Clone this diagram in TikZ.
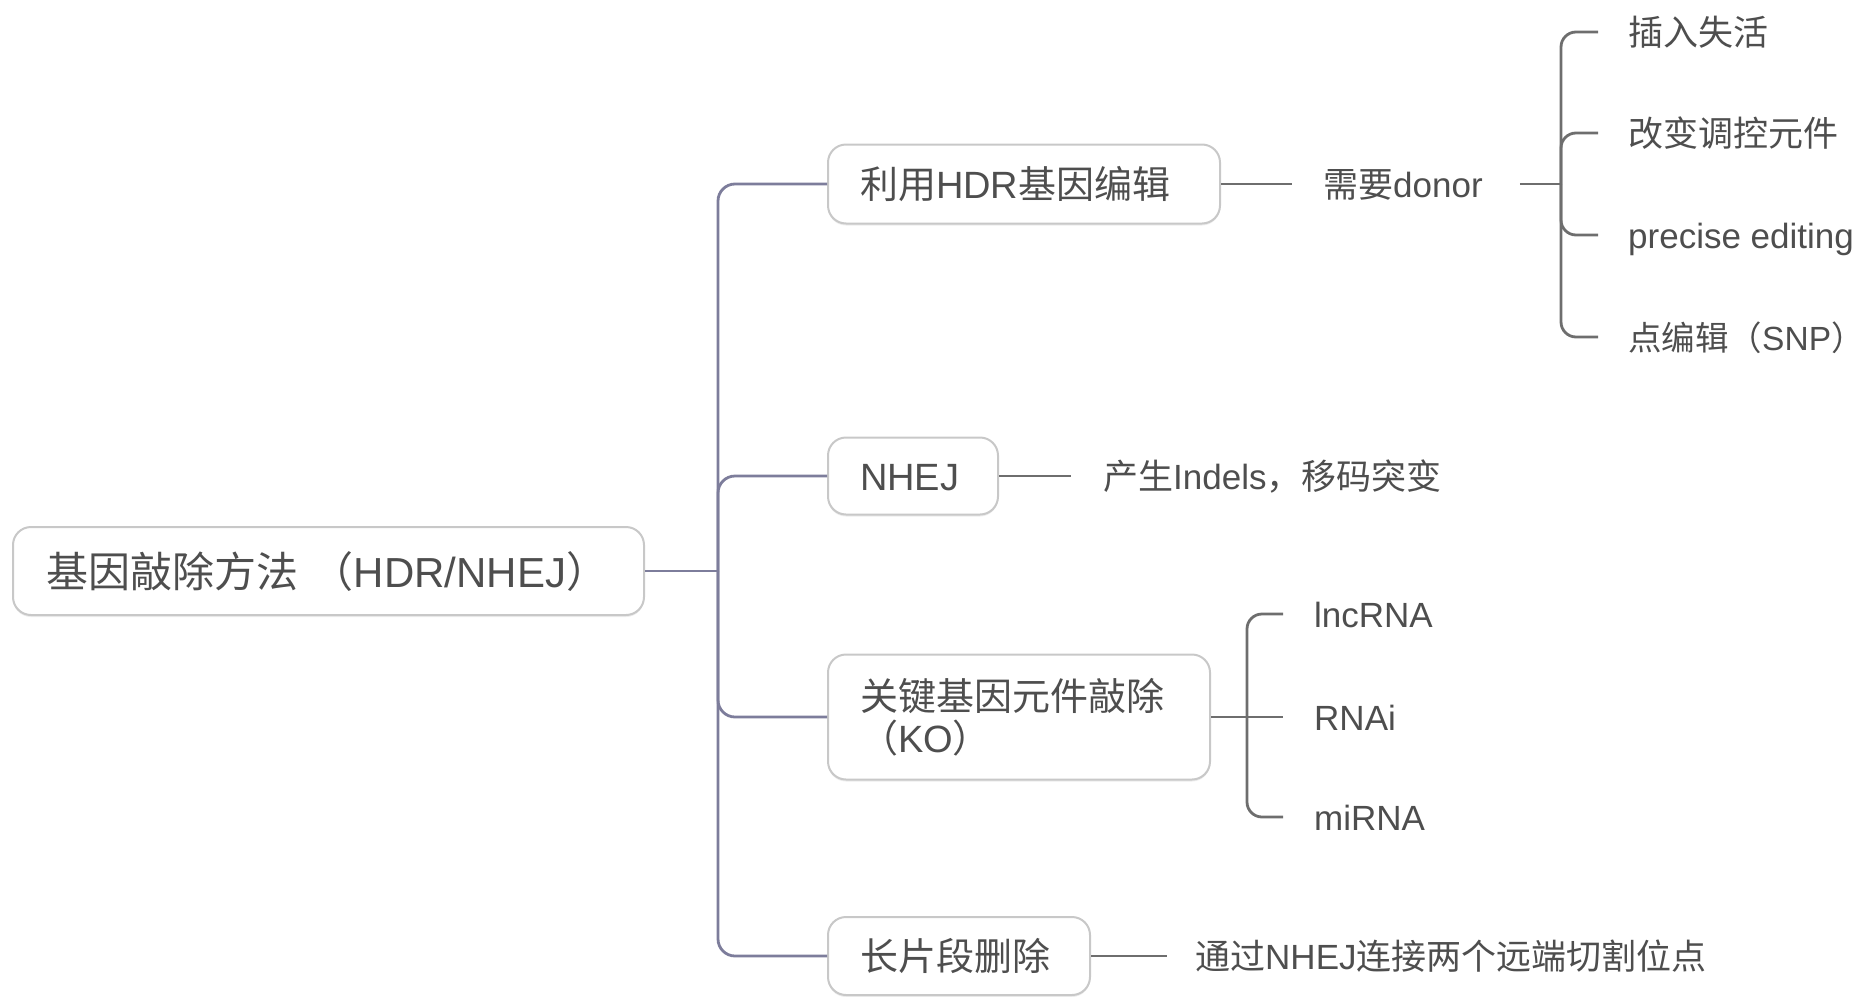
\documentclass[tikz,border=0pt]{standalone}
\usepackage{fontspec}
\setmainfont{Liberation Sans}
\newfontfamily\cjk{Noto Sans CJK SC}
\newcommand{\zh}[1]{{\cjk #1}}
\usetikzlibrary{shadows}
\definecolor{textgray}{RGB}{78,78,78}
\definecolor{boxgray}{RGB}{200,200,200}
\definecolor{trunkc}{RGB}{125,125,155}
\definecolor{brc}{RGB}{110,110,110}
\begin{document}
\begin{tikzpicture}[x=1pt,y=-1pt,
  box/.style={draw=boxgray, line width=2pt, rounded corners=18pt, fill=white,
    drop shadow={shadow xshift=0pt, shadow yshift=-2pt, opacity=0.15},
    inner xsep=32pt, inner ysep=0pt, align=left, anchor=west, text=textgray,
    text height=33.5pt, text depth=4.5pt, font=\fontsize{38}{42}\selectfont},
  leaf/.style={inner xsep=0pt, inner ysep=0pt, anchor=west, text=textgray,
    text height=31pt, text depth=4pt, font=\fontsize{35}{40}\selectfont},
  trunk/.style={draw=trunkc, line width=2.8pt},
  br/.style={draw=brc, line width=2.8pt},
]
\useasboundingbox (0,0) rectangle (1866,996);

% root and main branches
\node[box, font=\fontsize{42}{48}\selectfont, text height=37pt, text depth=5pt, inner xsep=33pt, text width=565pt, minimum height=88pt] (root) at (12,571)
  {\zh{基因敲除方法} \zh{（}HDR/NHEJ\zh{）}};
\node[box, text width=328pt, minimum height=79pt] (c1) at (827,184) {\zh{利用}HDR\zh{基因编辑}};
\node[box, text width=106pt, minimum height=77pt] (c2) at (827,476) {NHEJ};
\node[box, text width=318pt, minimum height=125pt, text depth=46.5pt] (c3) at (827,717) {\zh{关键基因元件敲除}\\\zh{（}KO\zh{）}};
\node[box, text width=198pt, minimum height=78pt] (c4) at (827,956) {\zh{长片段删除}};

\coordinate (tj) at (718,571);
\draw[trunk] (root.east) -- (tj);
\draw[trunk, rounded corners=17pt] (tj) |- (c1.west);
\draw[trunk, rounded corners=17pt] (tj) |- (c2.west);
\draw[trunk, rounded corners=17pt] (tj) |- (c3.west);
\draw[trunk, rounded corners=17pt] (tj) |- (c4.west);

% HDR branch
\node[leaf] (donor) at (1323,184) {\zh{需要}donor};
\draw[br, shorten >=31pt] (c1.east) -- (donor.west);
\coordinate (bj) at (1561,184);
\draw[br, shorten <=37pt] (donor.east) -- (bj);
\node[leaf] (l1) at (1628,32) {\zh{插入失活}};
\node[leaf] (l2) at (1628,133) {\zh{改变调控元件}};
\node[leaf] (l3) at (1628,235) {precise editing};
\node[leaf, font=\fontsize{33.5}{40}\selectfont] (l4) at (1628,337) {\zh{点编辑（}SNP\zh{）}};
\foreach \n in {l1,l2,l3,l4}
  \draw[br, rounded corners=15pt, shorten >=30pt] (bj) |- (\n.west);

% NHEJ branch
\node[leaf] (indel) at (1103,476) {\zh{产生}Indels\zh{，移码突变}};
\draw[br, shorten >=32pt] (c2.east) -- (indel.west);

% KO branch
\coordinate (kj) at (1247,717);
\node[leaf] (lnc) at (1314,614) {lncRNA};
\node[leaf] (rnai) at (1314,717) {RNAi};
\node[leaf] (mir) at (1314,817) {miRNA};
\draw[br] (c3.east) -- (kj);
\draw[br, shorten >=31pt] (kj) -- (rnai.west);
\draw[br, rounded corners=15pt, shorten >=31pt] (kj) |- (lnc.west);
\draw[br, rounded corners=15pt, shorten >=31pt] (kj) |- (mir.west);

% long deletion branch
\node[leaf] (far) at (1195,956) {\zh{通过}NHEJ\zh{连接两个远端切割位点}};
\draw[br, shorten >=28pt] (c4.east) -- (far.west);
\end{tikzpicture}
\end{document}
